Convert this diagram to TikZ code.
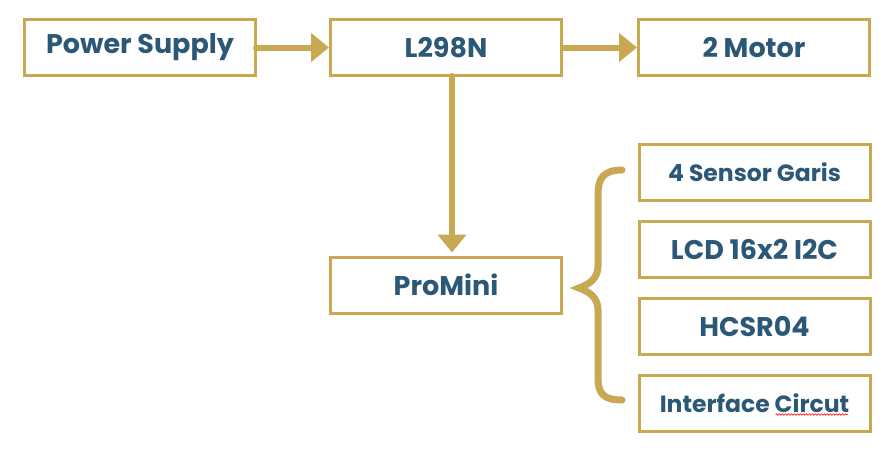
\documentclass[tikz,border=0pt]{standalone}
\usepackage{xcolor}
\usepackage{fontspec}
\setmainfont{Poppins}
\usepackage{tikz}
\usetikzlibrary{arrows.meta,positioning,decorations.pathmorphing}
\definecolor{gold}{HTML}{C9A852}
\definecolor{navy}{HTML}{2C5878}
\tikzset{
  box/.style={draw=gold, line width=3pt, rectangle, minimum width=231pt, minimum height=56pt, inner sep=0pt, text=navy, font=\fontsize{27}{30}\selectfont\bfseries},
  smallbox/.style={box, font=\fontsize{23.5}{26}\selectfont\bfseries},
  flow/.style={draw=gold, line width=6pt, line cap=round, -{Triangle[length=18pt,width=28pt]}}
}
\begin{document}
\begin{tikzpicture}[x=1pt, y=-1pt]
                \useasboundingbox (0,0) rectangle (895,453);
                \node[box] (PS) at (140,47.5) {Power Supply};
                \node[box] (L) at (446,47.5) {L298N};
                \node[box] (M) at (754,47.5) {2 Motor};
                \node[box] (P) at (446,285) {ProMini};

                \node[smallbox] (S) at (754.5,172.5) {4 Sensor Garis};
                \node[box] (LCD) at (754.5,249) {LCD 16x2 I2C};
                \node[box] (H) at (754.5,326.5) {HCSR04};
                \node[smallbox] (I) at (754.5,403.5) {Interface Circut};

                \draw[flow, shorten <=-1pt] (PS) -- (L);
                \draw[flow] (L) -- (M);
                \draw[flow, shorten <=-1pt, shorten >=3pt] ([xshift=6pt]L.south) -- ([xshift=6pt]P.north);

                % brace
                \draw[gold, line width=7pt, line cap=round]
                    (622,170) .. controls (604,170) and (598,178) .. (598,194)
                    -- (598,266) .. controls (598,278) and (590,284) .. (579,288)
                    .. controls (590,292) and (598,298) .. (598,310)
                    -- (598,378) .. controls (598,394) and (604,400) .. (622,400);

                % spell check line
                \draw[red, line width=0.6pt, decorate, decoration={snake, amplitude=0.8pt, segment length=3pt}]
                    ([xshift=-96pt, yshift=-11pt]I.east) -- ([xshift=-24pt, yshift=-11pt]I.east);
            \end{tikzpicture}
\end{document}
